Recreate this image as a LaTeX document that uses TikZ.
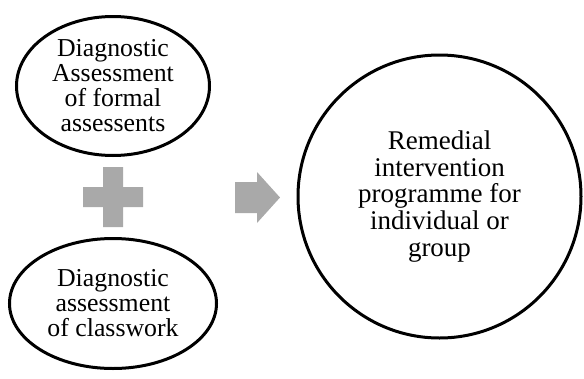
\documentclass[tikz,border=0pt]{standalone}
\usepackage{fontspec}
\setmainfont{Liberation Serif}
\usetikzlibrary{shapes.geometric}
\definecolor{plusgray}{HTML}{A9A9A9}
\begin{document}
\begin{tikzpicture}[x=1pt,y=-1pt,
  bubble/.style={draw=black, line width=3pt, ellipse, inner sep=0pt, outer sep=0pt,
    align=center, font=\fontsize{25.8}{25}\selectfont},
  grayshape/.style={fill=plusgray, draw=none}]
\useasboundingbox (0,0) rectangle (584,378);
\node[bubble, minimum width=193pt, minimum height=139pt] (top) at (113,86)
  {Diagnostic\\Assessment\\of formal\\assessents};
\node[bubble, minimum width=207pt, minimum height=130pt] (bot) at (113,303.5)
  {Diagnostic\\assessment\\of classwork};
\node[bubble, circle, minimum size=283pt, font=\fontsize{27}{26.7}\selectfont] (res) at (439.5,196.5)
  {Remedial\\intervention\\programme for\\individual or\\group};
% plus sign
\fill[grayshape] (103,167) -- (123,167) -- (123,187) -- (143,187) -- (143,207)
  -- (123,207) -- (123,227) -- (103,227) -- (103,207) -- (83,207) -- (83,187)
  -- (103,187) -- cycle;
% arrow
\fill[grayshape] (235,182) -- (257,182) -- (257,172) -- (280,197.5) -- (257,223)
  -- (257,213) -- (235,213) -- cycle;
\end{tikzpicture}
\end{document}
